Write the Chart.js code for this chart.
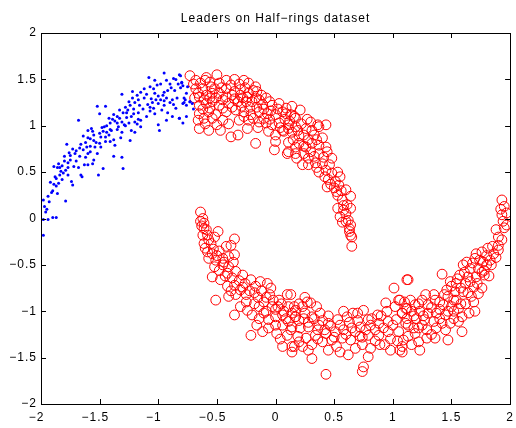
<!DOCTYPE html>
<html>
<head>
<meta charset="utf-8">
<script src="https://cdn.jsdelivr.net/npm/chart.js@4"></script>
<style>
  body { margin: 0; background: #fff; }
  canvas { display: block; }
</style>
</head>
<body>
<canvas id="halfRings" width="516" height="428"></canvas>
<script>
// Points, [x, y]
const blueLeaders = [
  [-0.95,1.57],[-1.08,1.52],[-0.81,1.54],[-0.87,1.51],[-1.03,1.49],[-1.01,1.44],[-0.80,1.47],[-0.83,1.45],
  [-0.79,1.43],[-0.89,1.41],[-0.92,1.38],[-0.95,1.36],[-1.22,1.37],[-1.31,1.34],[-1.03,1.35],[-1.10,1.34],
  [-1.12,1.30],[-1.17,1.28],[-1.06,1.29],[-1.00,1.32],[-0.98,1.28],[-1.05,1.25],[-1.09,1.23],[-1.00,1.24],
  [-0.95,1.22],[-0.90,1.25],[-0.87,1.23],[-0.78,1.25],[-0.73,1.26],[-1.20,1.25],[-1.24,1.22],[-1.21,1.18],
  [-1.26,1.17],[-1.21,1.13],[-1.17,1.14],[-1.23,1.10],[-1.27,1.09],[-1.31,1.04],[-1.35,1.03],[-1.39,1.07],
  [-1.41,1.03],[-1.46,0.99],[-1.41,0.96],[-1.34,0.99],[-1.29,1.01],[-1.25,1.03],[-1.20,1.04],[-1.15,1.06],
  [-1.10,1.10],[-1.07,1.16],[-1.03,1.13],[-0.97,1.17],[-0.93,1.06],[-1.00,1.01],[-0.99,0.95],[-0.88,1.10],
  [-0.82,1.08],[-1.52,1.21],[-1.50,1.13],[-1.45,1.21],[-1.68,1.06],[-1.60,0.95],[-1.57,0.97],[-1.56,0.94],
  [-1.47,0.94],[-1.40,0.95],[-1.32,0.87],[-1.31,0.93],[-1.24,0.84],[-1.45,0.83],[-1.41,0.83],[-1.55,0.84],
  [-1.64,0.89],[-1.60,0.87],[-1.53,0.82],[-1.78,0.80],[-1.73,0.75],[-1.67,0.76],[-1.64,0.74],[-1.61,0.77],
  [-1.58,0.78],[-1.54,0.77],[-1.52,0.70],[-1.62,0.66],[-1.67,0.67],[-1.71,0.70],[-1.76,0.71],[-1.80,0.67],
  [-1.85,0.59],[-1.89,0.56],[-1.86,0.55],[-1.82,0.57],[-1.77,0.60],[-1.75,0.63],[-1.72,0.56],[-1.77,0.55],
  [-1.79,0.52],[-1.83,0.51],[-1.84,0.47],[-1.87,0.43],[-1.92,0.39],[-1.89,0.37],[-1.87,0.35],[-1.82,0.42],
  [-1.77,0.47],[-1.73,0.36],[-1.74,0.40],[-1.63,0.58],[-1.60,0.58],[-1.56,0.59],[-1.55,0.63],[-1.47,0.54],
  [-1.51,0.47],[-1.66,0.47],[-1.65,0.45],[-1.31,0.66],[-1.38,0.67],[-1.30,0.54],[-1.94,0.24],[-1.86,0.27],
  [-1.93,0.18],[-1.79,0.19],[-1.98,0.20],[-1.97,0.13],[-1.96,0.07],[-1.94,-0.01],[-1.90,0.01],[-1.87,0.01],
  [-1.98,-0.01],[-1.98,-0.18],[-1.15,0.99],[-1.18,1.02],[-1.23,0.95],[-1.20,0.93],[-1.33,1.08],[-1.37,1.05],
  [-1.44,0.93],[-1.49,0.88],[-1.50,0.81],[-1.37,0.79],[-1.38,0.85],
  [-0.82,1.55],[-0.80,1.46],[-0.81,1.41],[-0.78,1.30],[-0.77,1.28],[-0.79,1.24],[-0.76,1.22],[-0.73,1.26],
  [-0.71,1.24],[-0.70,1.18],[-0.82,1.08],[-0.79,1.03],[-0.76,1.10],
  [-1.90,0.30],[-1.88,0.45],[-1.84,0.55],[-1.80,0.62],[-1.75,0.68],[-1.70,0.73],[-1.66,0.80],[-1.62,0.82],
  [-1.58,0.86],[-1.55,0.90],[-1.50,0.92],[-1.48,0.98],[-1.44,1.00],[-1.42,1.08],[-1.38,1.12],[-1.35,1.10],
  [-1.30,1.14],[-1.28,1.20],[-1.25,1.26],[-1.22,1.30],[-1.18,1.33],[-1.15,1.36],[-1.12,1.40],[-1.07,1.42],
  [-1.04,1.40],[-0.98,1.45],[-0.93,1.49],[-0.90,1.45],[-0.86,1.38],[-0.84,1.30],[-0.88,1.28],[-0.93,1.30],
  [-0.96,1.33],[-1.02,1.28],[-1.07,1.20],[-1.13,1.18],[-1.16,1.22],[-1.28,1.00],[-1.35,0.96],[-1.42,0.90],
  [-1.58,0.72],[-1.70,0.62],[-1.81,0.49],[-1.85,0.38],[-1.91,0.28],[-1.95,0.10],[-1.68,0.55],[-1.60,0.70],
  [-1.49,0.77],[-1.45,0.88],[-1.17,1.07],[-1.04,1.19],[-0.95,1.27],[-0.85,1.19],[-0.92,1.14],[-0.76,1.35],
  [-0.75,1.42],[-0.85,1.50],[-1.27,1.14],[-1.33,1.17]
];

const redUpperArc = [
  [-0.73,1.54],[-0.68,1.49],[-0.59,1.52],[-0.50,1.55],[-0.60,1.49],[-0.68,1.40],[-0.62,1.40],[-0.55,1.42],
  [-0.48,1.46],[-0.42,1.49],[-0.35,1.50],[-0.27,1.49],[-0.23,1.46],[-0.17,1.42],[-0.42,1.40],[-0.35,1.37],
  [-0.30,1.39],[-0.23,1.35],[-0.16,1.37],[-0.69,1.30],[-0.65,1.31],[-0.59,1.33],[-0.54,1.35],[-0.48,1.35],
  [-0.42,1.31],[-0.37,1.33],[-0.28,1.30],[-0.65,1.22],[-0.59,1.24],[-0.54,1.26],[-0.48,1.22],[-0.40,1.24],
  [-0.32,1.26],[-0.25,1.26],[-0.20,1.26],[-0.14,1.28],[-0.08,1.30],[-0.03,1.22],[0.03,1.24],[0.09,1.19],
  [0.14,1.21],[-0.65,1.13],[-0.57,1.15],[-0.51,1.12],[-0.42,1.15],[-0.34,1.17],[-0.27,1.15],[-0.21,1.12],
  [-0.14,1.15],[-0.07,1.13],[0.00,1.12],[0.06,1.15],[0.13,1.12],[0.17,1.08],[-0.66,1.06],[-0.61,1.08],
  [-0.54,1.08],[-0.45,1.06],[-0.31,1.06],[-0.23,1.06],[-0.14,1.04],[-0.08,1.03],[-0.03,1.01],[0.03,1.03],
  [0.11,1.01],[0.17,0.99],[-0.65,0.97],[-0.57,0.95],[-0.47,0.95],[-0.24,0.97],[-0.06,0.94],[0.00,0.90],
  [0.07,0.94],[-0.38,0.88],[-0.32,0.90],[-0.17,0.81],[0.00,0.83],[-0.01,0.74],[0.10,0.70],[0.17,0.77],
  [0.18,0.65],
  [0.09,1.13],[0.16,1.10],[0.21,1.17],[0.30,1.04],[0.36,1.01],[0.43,1.01],[0.06,0.95],[0.11,0.97],
  [0.19,0.95],[0.26,0.97],[0.31,0.95],[0.37,0.99],[0.24,0.90],[0.28,0.85],[0.20,0.81],[0.26,0.77],
  [0.31,0.81],[0.37,0.79],[0.43,0.77],[0.11,0.72],[0.17,0.70],[0.24,0.70],[0.30,0.72],[0.37,0.70],
  [0.44,0.72],[0.48,0.65],[0.23,0.58],[0.28,0.58],[0.34,0.60],[0.40,0.59],[0.37,0.50],[0.43,0.52],
  [0.48,0.49],[0.53,0.50],[0.45,0.42],[0.51,0.40],[0.55,0.45],[0.44,0.34],[0.50,0.33],[0.54,0.36],
  [0.60,0.31],[0.64,0.24],[0.53,0.25],[0.57,0.20],[0.61,0.15],[0.53,0.11],[0.58,0.09],[0.64,0.11],
  [0.55,0.02],[0.60,-0.03],[0.64,-0.07],[0.62,-0.02],[0.65,-0.20],[0.64,-0.18],[0.65,-0.30],
  [-0.70,1.45],[-0.64,1.46],[-0.56,1.47],[-0.52,1.40],[-0.46,1.41],[-0.38,1.44],[-0.31,1.45],[-0.26,1.41],
  [-0.19,1.38],[-0.12,1.33],[-0.66,1.35],[-0.61,1.28],[-0.56,1.30],[-0.51,1.30],[-0.45,1.28],[-0.35,1.29],
  [-0.30,1.33],[-0.24,1.31],[-0.17,1.30],[-0.11,1.23],[-0.05,1.26],[-0.62,1.18],[-0.56,1.19],[-0.45,1.19],
  [-0.37,1.20],[-0.29,1.21],[-0.22,1.20],[-0.16,1.20],[-0.10,1.18],[-0.04,1.16],[0.02,1.18],[-0.60,1.02],
  [-0.50,1.01],[-0.40,1.02],[-0.27,1.10],[-0.19,1.08],[-0.10,1.08],[-0.05,1.07],[0.08,1.07],[0.12,1.05],
  [-0.15,0.98],[0.04,0.98],[0.14,0.93],[0.20,0.89],[0.22,1.02],[0.27,1.07],[0.33,0.90],[0.35,0.85],
  [0.40,0.87],[0.15,0.85],[0.24,0.78],[0.28,0.65],[0.33,0.67],[0.41,0.66],[0.35,0.55],[0.46,0.58],
  [0.42,0.45],[0.47,0.37],[0.52,0.29],[0.56,0.30],[0.58,0.14],[0.60,0.05],[0.57,-0.04],[0.63,-0.11],
  [0.63,-0.14],[0.11,0.82]
];

const redLowerArc = [
  [-0.64,0.07],[-0.62,0.00],[-0.64,-0.03],[-0.61,-0.05],[-0.61,-0.11],[-0.62,-0.18],[-0.58,-0.18],[-0.52,-0.20],
  [-0.49,-0.14],[-0.61,-0.27],[-0.55,-0.27],[-0.58,-0.36],[-0.54,-0.38],[-0.42,-0.30],[-0.38,-0.29],[-0.35,-0.22],
  [-0.57,-0.43],[-0.51,-0.45],[-0.45,-0.43],[-0.40,-0.41],[-0.35,-0.39],[-0.45,-0.50],[-0.40,-0.52],[-0.52,-0.52],
  [-0.54,-0.63],[-0.47,-0.66],[-0.41,-0.59],[-0.34,-0.57],[-0.28,-0.61],[-0.21,-0.66],[-0.41,-0.73],[-0.35,-0.72],
  [-0.30,-0.77],[-0.40,-0.84],[-0.34,-0.82],[-0.25,-0.82],[-0.17,-0.73],[-0.13,-0.68],[-0.07,-0.70],[-0.04,-0.75],
  [-0.51,-0.88],[-0.35,-1.04],[-0.24,-0.99],[-0.20,-1.04],[-0.14,-0.95],[-0.08,-1.00],[-0.03,-0.95],[0.03,-0.88],
  [0.10,-0.82],[0.11,-0.95],[0.17,-0.99],[-0.14,-1.08],[-0.06,-1.09],[0.00,-1.06],[0.06,-1.04],[0.11,-1.11],
  [0.17,-1.06],[-0.21,-1.26],[-0.11,-1.22],[0.01,-1.24],[0.10,-1.26],[0.06,-1.38],[0.14,-1.38],
  [-0.15,-0.85],[-0.10,-0.90],[-0.05,-0.82],[0.00,-0.98],[0.05,-0.92],[-0.18,-0.92],[-0.25,-0.90],[-0.30,-0.95],
  [0.13,-0.82],[0.16,-0.95],[0.23,-0.95],[0.27,-0.90],[0.30,-0.91],[0.38,-1.02],[0.17,-1.06],[0.24,-1.08],
  [0.31,-1.06],[0.14,-1.17],[0.21,-1.18],[0.28,-1.17],[0.37,-1.15],[0.45,-1.13],[0.53,-1.09],[0.61,-1.06],
  [0.70,-1.02],[0.75,-0.99],[0.87,-1.04],[0.79,-1.09],[0.94,-0.91],[1.01,-0.75],[1.05,-0.88],[1.11,-0.97],
  [1.08,-1.02],[1.12,-0.66],[0.19,-1.27],[0.26,-1.29],[0.34,-1.26],[0.43,-1.24],[0.51,-1.22],[0.58,-1.20],
  [0.65,-1.18],[0.72,-1.17],[0.81,-1.15],[0.88,-1.13],[0.96,-1.11],[1.03,-1.09],[1.11,-1.13],[0.16,-1.38],
  [0.23,-1.38],[0.31,-1.36],[0.40,-1.33],[0.48,-1.31],[0.57,-1.29],[0.64,-1.31],[0.72,-1.27],[0.79,-1.26],
  [0.88,-1.26],[0.96,-1.22],[1.05,-1.22],[1.09,-1.31],[0.14,-1.44],[0.31,-1.51],[0.45,-1.42],[0.55,-1.44],
  [0.62,-1.47],[0.74,-1.36],[0.81,-1.40],[0.89,-1.36],[0.98,-1.42],[1.06,-1.42],[0.79,-1.49],[0.75,-1.60],
  [0.74,-1.65],[0.43,-1.68],
  [-0.63,-0.08],[-0.59,-0.12],[-0.57,-0.23],[-0.60,-0.32],[-0.53,-0.33],[-0.50,-0.40],[-0.48,-0.35],[-0.44,-0.47],
  [-0.36,-0.47],[-0.48,-0.56],[-0.43,-0.62],[-0.37,-0.64],[-0.31,-0.67],[-0.26,-0.70],[-0.38,-0.78],[-0.28,-0.74],
  [-0.22,-0.78],[-0.18,-0.80],[-0.12,-0.78],[-0.08,-0.85],[-0.02,-0.88],
  [0.02,-0.95],[0.07,-1.00],[0.09,-1.08],[0.14,-1.02],[0.20,-1.10],[0.25,-1.02],[0.28,-1.12],[0.33,-1.08],
  [0.36,-1.20],[0.40,-1.10],[0.42,-1.20],[0.47,-1.16],[0.50,-1.28],[0.55,-1.15],[0.60,-1.25],[0.63,-1.12],
  [0.68,-1.22],[0.70,-1.10],[0.74,-1.28],[0.77,-1.20],[0.82,-1.08],[0.85,-1.20],[0.90,-1.05],[0.92,-1.18],
  [0.95,-1.00],[0.98,-1.30],[1.00,-1.15],[1.02,-0.95],[1.04,-1.32],[0.06,-1.15],[0.00,-1.15],[-0.06,-1.18],
  [-0.16,-1.15],[0.04,-1.30],[0.20,-1.33],[0.28,-1.42],[0.36,-1.30],[0.52,-1.38],[0.68,-1.40],[0.85,-1.32],
  [0.93,-1.36],[-0.10,-1.02],[0.13,-1.20],[0.45,-1.05],[0.58,-1.00],[0.66,-1.02],[0.35,-0.95],[0.25,-0.85],
  [0.20,-0.92],
  [1.93,0.20],[1.95,0.13],[1.97,0.06],[1.93,0.04],[1.94,-0.03],[1.97,-0.07],[1.88,-0.12],[1.93,-0.23],
  [1.90,-0.29],[1.81,-0.32],[1.76,-0.36],[1.71,-0.38],[1.86,-0.38],[1.90,-0.34],[1.83,-0.45],[1.77,-0.47],
  [1.70,-0.43],[1.63,-0.47],[1.84,-0.50],[1.78,-0.56],[1.73,-0.54],[1.66,-0.54],[1.60,-0.50],[1.57,-0.61],
  [1.64,-0.63],[1.71,-0.63],[1.78,-0.61],[1.13,-0.66],[1.42,-0.60],[1.49,-0.68],[1.54,-0.70],[1.62,-0.70],
  [1.69,-0.74],[1.76,-0.75],[1.46,-0.77],[1.53,-0.79],[1.60,-0.79],[1.67,-0.84],[1.73,-0.81],[1.47,-0.84],
  [1.54,-0.88],[1.62,-0.92],[1.69,-0.90],[1.70,-1.00],[1.43,-0.93],[1.50,-0.95],[1.56,-0.97],[1.36,-0.88],
  [1.30,-0.93],[1.25,-0.88],[1.19,-0.93],[1.12,-0.97],[1.06,-0.88],[1.08,-1.02],[1.16,-1.00],[1.23,-1.00],
  [1.30,-1.02],[1.37,-1.02],[1.45,-1.04],[1.52,-1.08],[1.59,-1.06],[1.20,-1.08],[1.27,-1.09],[1.35,-1.11],
  [1.42,-1.13],[1.49,-1.13],[1.56,-1.11],[1.13,-1.15],[1.22,-1.18],[1.29,-1.20],[1.37,-1.18],[1.59,-1.22],
  [1.19,-1.24],[1.13,-1.27],[1.22,-1.33],[1.29,-1.29],[1.36,-1.29],[1.47,-1.31],[1.08,-1.38],[1.16,-1.36],
  [1.23,-1.42],[1.08,-1.44],
  [1.10,-0.90],[1.15,-0.88],[1.18,-1.05],[1.22,-0.92],[1.26,-1.05],[1.28,-0.82],[1.33,-0.96],[1.35,-0.82],
  [1.40,-0.90],[1.40,-1.08],[1.44,-0.82],[1.47,-1.00],[1.50,-0.73],[1.52,-0.88],[1.55,-0.65],[1.58,-0.75],
  [1.58,-0.92],[1.61,-0.58],[1.64,-0.80],[1.66,-0.68],[1.68,-0.48],[1.72,-0.70],[1.74,-0.45],[1.76,-0.58],
  [1.80,-0.40],[1.80,-0.50],[1.82,-0.62],[1.85,-0.30],[1.88,-0.42],[1.90,-0.20],[1.92,0.10],[1.95,-0.10],
  [1.25,-1.15],[1.33,-1.25],[1.45,-1.20],[1.52,-1.00],[1.65,-1.02],[1.18,-1.18],[1.12,-1.08],[1.40,-0.98]
];

const chartTitle = 'Leaders on Half\u2212rings dataset';
const axisMin = -2;
const axisMax = 2;
const tickStep = 0.5;

const toPoints = arr => arr.map(p => ({ x: p[0], y: p[1] }));

// MATLAB style minus sign on tick labels
function tickLabel(value) {
  return String(Math.round(value * 10) / 10).replace('-', '\u2212');
}
// x labels: MATLAB centres the digits and lets the minus hang to the left
function xTickLabel(value) {
  const s = tickLabel(value);
  return value < 0 ? s + '  ' : s;
}

const fontFamily = '"Liberation Sans", Arial, sans-serif';

// the old X11 Helvetica is set a little looser than Liberation Sans
const looseText = {
  id: 'looseText',
  beforeLayout(chart) { chart.ctx.letterSpacing = '1px'; },
  beforeDraw(chart) { chart.ctx.letterSpacing = '1px'; }
};

// box with inward ticks on all four sides, title centred over the axes
const matlabAxes = {
  id: 'matlabAxes',
  afterDraw(chart) {
    const { ctx, chartArea: a, scales } = chart;
    const len = 5;
    ctx.save();
    ctx.strokeStyle = '#000';
    ctx.lineWidth = 1;
    ctx.beginPath();
    scales.x.ticks.forEach(t => {
      const px = Math.round(scales.x.getPixelForValue(t.value)) + 0.5;
      ctx.moveTo(px, a.bottom); ctx.lineTo(px, a.bottom - len);
      ctx.moveTo(px, a.top); ctx.lineTo(px, a.top + len);
    });
    scales.y.ticks.forEach(t => {
      const py = Math.round(scales.y.getPixelForValue(t.value)) + 0.5;
      ctx.moveTo(a.left, py); ctx.lineTo(a.left + len, py);
      ctx.moveTo(a.right, py); ctx.lineTo(a.right - len, py);
    });
    ctx.stroke();
    ctx.strokeRect(Math.round(a.left) + 0.5, Math.round(a.top) + 0.5,
      Math.round(a.right - a.left), Math.round(a.bottom - a.top));

    ctx.fillStyle = '#000';
    ctx.font = '12px ' + fontFamily;
    ctx.textAlign = 'center';
    ctx.textBaseline = 'alphabetic';
    ctx.fillText(chartTitle, (a.left + a.right) / 2, 22);
    ctx.restore();
  }
};

const tickFont = { family: fontFamily, size: 12 };

new Chart(document.getElementById('halfRings'), {
  type: 'scatter',
  data: {
    datasets: [
      {
        label: 'leaders',
        data: toPoints(blueLeaders),
        pointStyle: 'circle',
        pointRadius: 1.5,
        pointBorderWidth: 0,
        backgroundColor: '#0000ff',
        borderColor: '#0000ff'
      },
      {
        label: 'half rings',
        data: toPoints(redUpperArc.concat(redLowerArc)),
        pointStyle: 'circle',
        pointRadius: 4.9,
        pointBorderWidth: 1,
        backgroundColor: 'rgba(0,0,0,0)',
        borderColor: '#ff0000'
      }
    ]
  },
  options: {
    responsive: false,
    animation: false,
    layout: { padding: { left: 0, right: 4, top: 33, bottom: 0 } },
    plugins: {
      legend: { display: false },
      tooltip: { enabled: false },
      title: { display: false }
    },
    scales: {
      x: {
        type: 'linear',
        min: axisMin,
        max: axisMax,
        grid: { display: false, drawTicks: false },
        border: { display: false },
        ticks: { stepSize: tickStep, color: '#000', font: tickFont, padding: 6, callback: xTickLabel, maxRotation: 0 },
        afterFit(scale) {
          scale.height = 24;
          scale.paddingLeft = 0;
          scale.paddingRight = 0;
        }
      },
      y: {
        type: 'linear',
        min: axisMin,
        max: axisMax,
        grid: { display: false, drawTicks: false },
        border: { display: false },
        ticks: { stepSize: tickStep, color: '#000', font: tickFont, padding: 4, callback: tickLabel },
        afterFit(scale) {
          scale.width = 41;
          scale.paddingTop = 0;
          scale.paddingBottom = 0;
        }
      }
    }
  },
  plugins: [looseText, matlabAxes]
});
</script>
</body>
</html>
